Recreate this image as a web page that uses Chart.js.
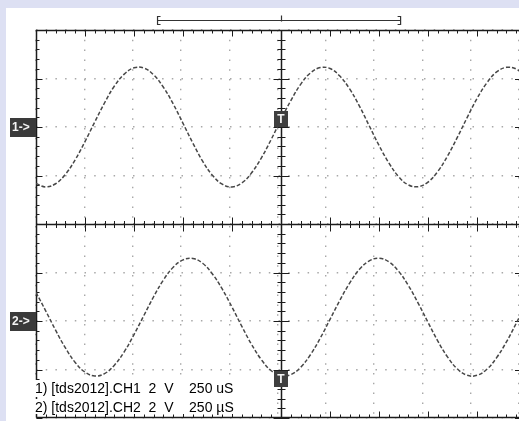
<!DOCTYPE html>
<html>
<head>
<meta charset="utf-8">
<script src="https://cdn.jsdelivr.net/npm/chart.js@4.4.0/dist/chart.umd.min.js"></script>
<style>
body { margin: 0; background: #fff; }
#wrap { position: relative; width: 519px; height: 421px; overflow: hidden; }
canvas { position: absolute; left: 0; top: 0; }
.cap { position: absolute; left: 33px; padding-left: 2px; font: 14px "Liberation Sans", Arial, sans-serif; color: #000; white-space: pre; line-height: 17px; }
#cap1 { background: #fff; }
#cap2 { background: linear-gradient(#fff 15px, transparent 15px); }
</style>
</head>
<body>
<div id="wrap">
  <canvas id="scope" width="519" height="421"></canvas>
  <div class="cap" id="cap1" style="top:380px"></div>
  <div class="cap" id="cap2" style="top:399px"></div>
</div>
<script>
// sample times in microseconds (250 us / div)
var timeUs = [0, 50, 100, 150, 200, 250, 300, 350, 400, 450, 500, 550, 600, 650, 700, 750, 800, 850, 900, 950,
    1000, 1050, 1100, 1150, 1200, 1250, 1300, 1350, 1400, 1450, 1500, 1550, 1600, 1650, 1700, 1750, 1800, 1850, 1900, 1950,
    2000, 2050, 2100, 2150, 2200, 2250, 2300, 2350, 2400, 2450, 2500];
// volts (2 V / div)
var ch1Volts = [-2.33, -2.47, -2.34, -1.95, -1.35, -0.60, 0.21, 1.00, 1.69, 2.18, 2.44, 2.43, 2.15, 1.64, 0.95, 0.15, -0.66, -1.41, -1.99, -2.36,
    -2.47, -2.31, -1.89, -1.27, -0.51, 0.31, 1.09, 1.76, 2.23, 2.45, 2.41, 2.10, 1.57, 0.86, 0.05, -0.76, -1.48, -2.05, -2.39, -2.46,
    -2.27, -1.83, -1.19, -0.42, 0.40, 1.18, 1.82, 2.27, 2.46, 2.39, 2.06];
var ch2Volts = [1.18, 0.41, -0.38, -1.11, -1.71, -2.11, -2.27, -2.17, -1.82, -1.27, -0.56, 0.22, 1.00, 1.69, 2.22, 2.52, 2.58, 2.38, 1.94, 1.32,
    0.57, -0.22, -0.97, -1.60, -2.05, -2.26, -2.21, -1.91, -1.39, -0.71, 0.07, 0.85, 1.56, 2.13, 2.48, 2.59, 2.44, 2.05, 1.46, 0.73,
    -0.06, -0.83, -1.49, -1.98, -2.24, -2.24, -1.99, -1.51, -0.86, -0.09, 0.70];

var channelLabels = ['1->', '2->'];
var channelPosition = [4, -4];          // ground level of each channel, volts on screen
var triggerTime = 1250;                 // us, centre of screen
var triggerLevel = [0.31, -2.41];       // where the T marks sit on each channel
var recordWindow = [620, 1860];         // bracket over the screen, us
var captions = ['1) [tds2012].CH1  2  V    250 uS', '2) [tds2012].CH2  2  V    250 \u00b5S'];

document.getElementById('cap1').textContent = captions[0];
document.getElementById('cap2').textContent = captions[1];

function points(volts, pos) {
    return timeUs.map(function (t, i) { return { x: t, y: volts[i] + pos }; });
}

var ink = '#1c1c1c';

var scopeFrame = {
    id: 'scopeFrame',
    beforeDraw: function (chart) {
        var ctx = chart.ctx;
        ctx.save();
        ctx.fillStyle = '#dde0f3';
        ctx.fillRect(0, 0, chart.width, chart.height);
        ctx.fillStyle = '#ffffff';
        ctx.fillRect(6, 8, chart.width - 6, chart.height - 8);
        ctx.restore();
    },
    beforeDatasetsDraw: function (chart) {
        var ctx = chart.ctx, a = chart.chartArea, xs = chart.scales.x, ys = chart.scales.y;
        var cx = Math.round(xs.getPixelForValue(triggerTime)) + 0.5;
        var cy = Math.round(ys.getPixelForValue(0)) + 0.5;
        var top = Math.round(a.top) + 0.5, bot = Math.round(a.bottom) - 0.5, left = Math.round(a.left) + 0.5;
        ctx.save();
        ctx.strokeStyle = ink;
        // border + centre axes
        ctx.lineWidth = 1.5;
        ctx.beginPath();
        ctx.moveTo(left, bot); ctx.lineTo(left, top); ctx.lineTo(a.right, top);
        ctx.moveTo(left, bot); ctx.lineTo(a.right, bot);
        ctx.moveTo(cx, a.top); ctx.lineTo(cx, a.bottom);
        ctx.moveTo(a.left, cy); ctx.lineTo(a.right, cy);
        ctx.stroke();
        // minor / major ticks
        ctx.lineWidth = 1;
        ctx.beginPath();
        for (var t = 0; t <= xs.max; t += 50) {
            var px = Math.round(xs.getPixelForValue(t)) + 0.5;
            var major = t % 250 === 0;
            var L = major ? 6 : 3;
            ctx.moveTo(px, top); ctx.lineTo(px, top + L);
            ctx.moveTo(px, bot); ctx.lineTo(px, bot - L);
            var C = major ? 7 : 3.5;
            ctx.moveTo(px, cy - C); ctx.lineTo(px, cy + C);
        }
        for (var k = -20; k <= 20; k++) {
            var v = k * 0.4;
            var py = Math.round(ys.getPixelForValue(v)) + 0.5;
            var maj = k % 5 === 0;
            var L2 = maj ? 6 : 3;
            ctx.moveTo(left, py); ctx.lineTo(left + L2, py);
            var C2 = maj ? 8 : 4;
            ctx.moveTo(cx - C2, py); ctx.lineTo(cx + C2, py);
            if (maj) { ctx.moveTo(a.right, py); ctx.lineTo(a.right - 4, py); }
        }
        ctx.stroke();
        // record bracket above the screen
        var bl = xs.getPixelForValue(recordWindow[0]), br = xs.getPixelForValue(recordWindow[1]);
        var by = a.top - 9.5;
        ctx.strokeStyle = '#333';
        ctx.lineWidth = 1.2;
        ctx.beginPath();
        ctx.moveTo(bl + 3, by - 4); ctx.lineTo(bl, by - 4); ctx.lineTo(bl, by + 4); ctx.lineTo(bl + 3, by + 4);
        ctx.moveTo(bl, by); ctx.lineTo(br, by);
        ctx.moveTo(br - 3, by - 4); ctx.lineTo(br, by - 4); ctx.lineTo(br, by + 4); ctx.lineTo(br - 3, by + 4);
        ctx.moveTo(cx, by - 5); ctx.lineTo(cx, by + 1);
        ctx.stroke();
        ctx.restore();
    },
    afterDatasetsDraw: function (chart) {
        var ctx = chart.ctx, a = chart.chartArea, xs = chart.scales.x, ys = chart.scales.y;
        ctx.save();
        ctx.font = 'bold 12px "Liberation Sans", Arial, sans-serif';
        ctx.textBaseline = 'middle';
        channelLabels.forEach(function (lab, i) {
            var py = Math.round(ys.getPixelForValue(channelPosition[i]));
            ctx.fillStyle = '#3a3a3a';
            ctx.fillRect(10, py - 9, a.left - 10, 19);
            ctx.fillStyle = '#f4f4f4';
            ctx.textAlign = 'left';
            ctx.fillText(lab, 12, py + 1);
            // trigger mark on the trace
            var tx = Math.round(xs.getPixelForValue(triggerTime));
            var ty = Math.round(ys.getPixelForValue(triggerLevel[i] + channelPosition[i]));
            ctx.fillStyle = '#3f3f3f';
            ctx.fillRect(tx - 7, ty - 8, 14, 16);
            ctx.fillStyle = '#f4f4f4';
            ctx.textAlign = 'center';
            ctx.fillText('T', tx, ty + 1);
        });
        ctx.restore();
    }
};

var dotted = { color: '#a8a8a8', lineWidth: 1.4, drawTicks: false };

new Chart(document.getElementById('scope'), {
    type: 'line',
    data: {
        datasets: [{
            label: 'CH1',
            data: points(ch1Volts, channelPosition[0]),
            borderColor: '#474747',
            borderWidth: 1.5,
            borderDash: [4, 2],
            pointRadius: 0,
            tension: 0.4
        }, {
            label: 'CH2',
            data: points(ch2Volts, channelPosition[1]),
            borderColor: '#474747',
            borderWidth: 1.5,
            borderDash: [4, 2],
            pointRadius: 0,
            tension: 0.4
        }]
    },
    options: {
        responsive: false,
        animation: false,
        layout: { padding: { left: 36, top: 30, right: 0, bottom: 3 } },
        plugins: { legend: { display: false }, tooltip: { enabled: false } },
        scales: {
            x: {
                type: 'linear', min: 0, max: 2464,
                ticks: { display: false, stepSize: 250, includeBounds: false },
                grid: dotted,
                border: { display: false, dash: [1.5, 8.3] }
            },
            y: {
                type: 'linear', min: -8, max: 8,
                ticks: { display: false, stepSize: 2 },
                grid: dotted,
                border: { display: false, dash: [1.5, 8.2] }
            }
        }
    },
    plugins: [scopeFrame]
});
</script>
</body>
</html>
